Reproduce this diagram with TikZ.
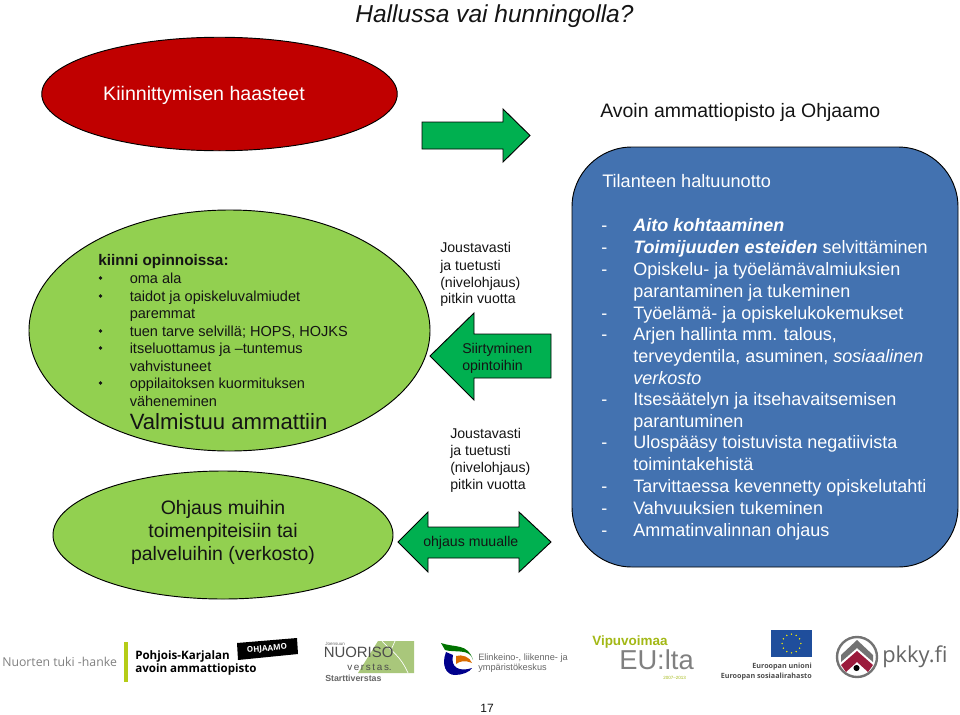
\documentclass[tikz,border=0pt]{standalone}
\usepackage{fontspec}
\setmainfont{Liberation Sans}
\newfontfamily\opensans{Open Sans}
\usetikzlibrary{shapes.geometric,calc}
\definecolor{redfill}{HTML}{C00000}
\definecolor{greenfill}{HTML}{92D050}
\definecolor{arrowgreen}{HTML}{00B050}
\definecolor{bluefill}{HTML}{4372B0}
\definecolor{txt}{HTML}{141414}
\definecolor{lime}{HTML}{B5CC18}
\definecolor{nuoro}{HTML}{A9C77B}
\definecolor{eublue}{HTML}{1F4E9C}
\definecolor{wine}{HTML}{9B1B3C}
\tikzset{
 shapeline/.style={draw=black,line width=0.7pt},
 tline/.style={anchor=west,inner sep=0pt,text height=0.72em,text depth=0.2em,yshift=-1.7pt},
 label/.style={tline,text=txt,font=\fontsize{14.6}{14.6}\selectfont},
 bluetext/.style={tline,text=white,font=\fontsize{13.5}{13.5}\selectfont},
 small/.style={tline,text=txt,font=\fontsize{10.6}{10.6}\selectfont},
 greentext/.style={tline,text=txt,font=\fontsize{10.9}{10.9}\selectfont},
 bul/.style={circle,fill=txt,inner sep=0pt,minimum size=2.8pt},
 arrowbox/.style={shapeline,fill=arrowgreen},
 logotext/.style={inner sep=0pt,anchor=west},
}
\begin{document}
\begin{tikzpicture}[x=0.75pt,y=-0.75pt]
\useasboundingbox (0,0) rectangle (960,714);
% title
\node[inner sep=0pt,anchor=base,text=txt,font=\fontsize{18.4}{18.4}\selectfont\itshape] (title) at (494.5,22) {Hallussa vai hunningolla?};
% ellipses
\node[ellipse,shapeline,fill=greenfill,minimum width=401*0.75pt,minimum height=241*0.75pt,inner sep=0pt] (green) at (229.5,330.5) {};
\node[ellipse,shapeline,fill=redfill,minimum width=355.5*0.75pt,minimum height=113.5*0.75pt,inner sep=0pt] (red) at (219.5,94) {};
\node[ellipse,shapeline,fill=greenfill,minimum width=340*0.75pt,minimum height=128*0.75pt,inner sep=0pt] (low) at (223,535) {};
\node[inner sep=0pt,text=white,font=\fontsize{14.7}{14.7}\selectfont] (redt) at (204,95.5) {Kiinnittymisen haasteet};
% arrows
\draw[arrowbox] (422,122) -- (503,122) -- (503,109) -- (530,135.5) -- (503,162) -- (503,149) -- (422,149) -- cycle;
\draw[arrowbox] (430,356) -- (474,313) -- (474,334) -- (551,334) -- (551,378) -- (474,378) -- (474,400) -- cycle;
\draw[arrowbox] (398,542) -- (428,512) -- (428,527) -- (519,527) -- (519,512) -- (551,542) -- (519,572) -- (519,558) -- (428,558) -- (428,572) -- cycle;
% blue
\draw[shapeline,fill=bluefill,rounded corners=45pt] (572,147) rectangle (958,567);
% top right
\node[label] (avoin) at (600,112) {Avoin ammattiopisto ja Ohjaamo};
\node[bluetext,font=\fontsize{13.6}{13.6}\selectfont] (tilanne) at (602,182) {Tilanteen haltuunotto};
% green text
\node[greentext,font=\fontsize{11.5}{11.5}\selectfont\bfseries] (kiinni) at (98,260) {kiinni opinnoissa:};
\foreach \y/\t/\b in {278/oma ala/1,296/taidot ja opiskeluvalmiudet/1,313/paremmat/0,331/{tuen tarve selvillä; HOPS, HOJKS}/1,348/itseluottamus ja --tuntemus/1,366/vahvistuneet/0,383/oppilaitoksen kuormituksen/1,401/väheneminen/0}{
  \node[greentext] at (129.5,\y) {\t};
  \ifnum\b=1 \node[bul] at (100.5,\y) {}; \fi
}
\node[tline,text=txt,font=\fontsize{16.6}{16.6}\selectfont] (valm) at (129.5,424) {Valmistuu ammattiin};
\node[align=center,inner sep=0pt,text=txt,font=\fontsize{14.6}{17.4}\selectfont] (ohj) at (223,532.5) {Ohjaus muihin\\toimenpiteisiin tai\\palveluihin (verkosto)};
% middle text
\foreach \y/\t in {247/Joustavasti,265/ja tuetusti,282/(nivelohjaus),298/pitkin vuotta}{\node[small] at (440,\y) {\t};}
\foreach \y/\t in {433/Joustavasti,450/ja tuetusti,467/(nivelohjaus),484/pitkin vuotta}{\node[small] at (450,\y) {\t};}
\node[small] (siir) at (462,348) {Siirtyminen};
\node[small] (opin) at (462,365) {opintoihin};
\node[small] (muu) at (423,541) {ohjaus muualle};
% blue text
\foreach \y/\t/\d in {
 226/{\textbf{\textit{Aito kohtaaminen}}}/1,
 248/{\textbf{\textit{Toimijuuden esteiden}} selvittäminen}/1,
 270/{Opiskelu- ja työelämävalmiuksien}/1,
 292/{parantaminen ja tukeminen}/0,
 314/{Työelämä- ja opiskelukokemukset}/1,
 335/{Arjen hallinta mm. talous,}/1,
 357/{terveydentila, asuminen, \textit{sosiaalinen}}/0,
 379/{\textit{verkosto}}/0,
 400/{Itsesäätelyn ja itsehavaitsemisen}/1,
 422/{parantuminen}/0,
 443/{Ulospääsy toistuvista negatiivista}/1,
 465/{toimintakehistä}/0,
 487/{Tarvittaessa kevennetty opiskelutahti}/1,
 509/{Vahvuuksien tukeminen}/1,
 531/{Ammatinvalinnan ohjaus}/1}{
 \node[bluetext] at (633,\y) {\t};
 \ifnum\d=1 \node[bluetext] at (601,\y) {-}; \fi
}
% logos
\node[logotext,text=black!50,font=\opensans\fontsize{9.2}{9.2}\selectfont] (l1) at (2,662) {Nuorten tuki -hanke};
\fill[lime] (124,642) rectangle (128,682);
\node[logotext,text=black,align=left,font=\opensans\bfseries\fontsize{8.7}{10.2}\selectfont] (l2) at (135,663) {Pohjois-Karjalan\\avoin ammattiopisto};
\fill[black] (237,643) -- (297,638) -- (298,654) -- (238,660) -- cycle;
\node[inner sep=0pt,text=white,rotate=5,font=\opensans\bfseries\fontsize{6}{6}\selectfont] (l3) at (267,649) {OHJAAMO};
\fill[nuoro] (378,641) -- (414,641) -- (414,673) -- (358,673) -- cycle;
\draw[white,line width=0.5pt] (382,641) .. controls (392,652) and (400,655) .. (408,673) (395,641) -- (391,650);
\node[logotext,text=black!60,font=\fontsize{3.4}{3.4}\selectfont] (l4a) at (325,643.5) {Joensuun};
\node[logotext,text=black!70,font=\fontsize{11.2}{11.2}\selectfont] (l4) at (323.5,652) {NUORISO};
\node[logotext,text=black!70,font=\fontsize{7.4}{7.4}\selectfont] (l5) at (347,667) {v\,e\,r\,s\,t\,a\,s.};
\node[logotext,text=black!60,font=\fontsize{6.6}{6.6}\selectfont\bfseries] (l6) at (325,678.5) {Starttiverstas};
\fill[green!45!black] (441,643) .. controls (455,648) and (468,643) .. (473,660) .. controls (470,648) and (455,653) .. (445,650) -- cycle;
\fill[blue!55!black] (446,652) .. controls (441,665) and (446,675) .. (455,675) .. controls (462,675) and (470,672) .. (472,668) .. controls (460,672) and (450,668) .. (453,655) -- cycle;
\fill[orange!85!black] (456,656) .. controls (462,654) and (470,657) .. (472,663) .. controls (465,660) and (460,661) .. (456,664) -- cycle;
\node[logotext,align=left,text=black!60,font=\fontsize{6.9}{7.5}\selectfont] (l7) at (478,663) {Elinkeino-, liikenne- ja\\ympäristökeskus};
\node[logotext,text=lime!90!black,font=\bfseries\fontsize{10.1}{10.1}\selectfont] (l8) at (592,642) {Vipuvoimaa};
\node[logotext,text=black!50,font=\fontsize{20.5}{20.5}\selectfont] (l9) at (619,660) {EU:lta};
\node[logotext,text=lime!90!black,font=\fontsize{3.4}{3.4}\selectfont] (l10) at (663,678) {2007--2013};
\fill[eublue] (771,630) rectangle (812,657);
\foreach \a in {0,30,...,330}{\fill[yellow] ($(791.5,643.5)+(\a:7pt)$) circle (0.6pt);}
\node[inner sep=0pt,anchor=east,align=right,text=black!70,font=\opensans\bfseries\fontsize{5.4}{7.5}\selectfont] (l11) at (812,672) {Euroopan unioni\\Euroopan sosiaalirahasto};
\draw[black!55,line width=1.8pt,fill=white] (857,657) circle (15pt);
\fill[black!55] (857,640) -- (873,655) -- (873,662) -- (857,648) -- (841,662) -- (841,655) -- cycle;
\fill[wine] (857,651) -- (873,665) -- (868,672) -- (857,662) -- (846,672) -- (841,665) -- cycle;
\fill[black] (856.5,668) circle (2.3pt);
\node[logotext,text=black!60,font=\opensans\fontsize{16.4}{16.4}\selectfont] (l12) at (882,657) {pkky.fi};
\node[inner sep=0pt,text=txt,font=\fontsize{9}{9}\selectfont] (page) at (487,708) {17};
\end{tikzpicture}
\end{document}
